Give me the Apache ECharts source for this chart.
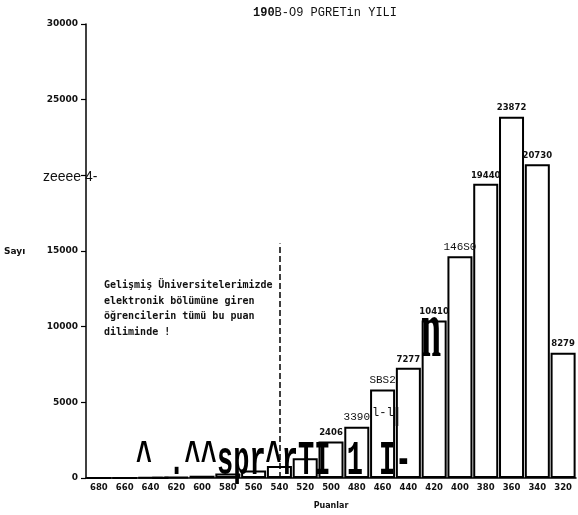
<!DOCTYPE html>
<html>
<head>
<meta charset="utf-8">
<script src="https://cdn.jsdelivr.net/npm/echarts@6/dist/echarts.min.js"></script>
<style>html,body{margin:0;padding:0;background:#fff;}#c{width:578px;height:515px;}</style>
</head>
<body>
<div id="c"></div>
<script>
// Score bins (Puanlar) and counts (Sayı)
const categories = ['680','660','640','620','600','580','560','540','520','500','480','460','440','420','400','380','360','340','320'];
const counts = [5, 10, 30, 80, 150, 300, 500, 800, 1300, 2406, 3390, 5852, 7277, 10410, 14650, 19440, 23872, 20730, 8279];
const barLabels = ['', '', '', '', '', '', '', '', '', '2406', '3390', 'SBS2', '7277', '10410', '146S0', '19440', '23872', '20730', '8279'];
const yTickLabels = ['0', '5000', '10000', '15000', 'zeeee 4-', '25000', '30000'];
const titleText = '190B-O9 PGRETin YILI';
const noteLines = ['Gelişmiş Üniversitelerimizde', 'elektronik bölümüne giren', 'öğrencilerin tümü bu puan', 'diliminde !'];
const noteCategory = '540';
const noteTop = 15500;
const overlayGlyphs = '^_.^^spr^rTI 1 I-';

const ocrStyled = new Set([10, 11, 14]);
const isNum = s => /^\d+$/.test(s);

const chart = echarts.init(document.getElementById('c'));
const option = {
  animation: false,
  backgroundColor: '#fff',
  title: {
    text: '{b|' + titleText.slice(0, 3) + '}' + titleText.slice(3),
    left: 248, top: 2,
    textStyle: {
      fontFamily: 'Liberation Mono', fontSize: 12, fontWeight: 'normal', color: '#111',
      rich: { b: { fontFamily: 'Liberation Mono', fontSize: 12, fontWeight: 'bold', color: '#111' } }
    }
  },
  grid: { left: 86, right: 2, top: 24, bottom: 37 },
  xAxis: {
    type: 'category',
    data: categories,
    name: 'Puanlar',
    nameLocation: 'middle',
    nameGap: 24,
    nameTextStyle: { fontFamily: 'DejaVu Sans', fontWeight: 'bold', fontSize: 8, color: '#111' },
    axisLine: { lineStyle: { color: '#000', width: 1.5 } },
    axisTick: { length: 4, lineStyle: { color: '#000', width: 1.2 } },
    axisLabel: { interval: 0, fontFamily: 'DejaVu Sans', fontWeight: 'bold', fontSize: 8.5, color: '#111', margin: 5 }
  },
  yAxis: {
    type: 'value', min: 0, max: 30000, interval: 5000,
    axisLine: { show: true, lineStyle: { color: '#000', width: 1.5 } },
    axisTick: { show: true, length: 5, lineStyle: { color: '#000', width: 1.2 } },
    splitLine: { show: false },
    axisLabel: {
      formatter: (v, i) => { const t = yTickLabels[i]; return isNum(t) ? t : ''; },
      fontFamily: 'DejaVu Sans', fontWeight: 'bold', fontSize: 9, color: '#111', margin: 8
    }
  },
  series: [{
    type: 'bar',
    data: counts,
    barCategoryGap: '3%',
    itemStyle: { color: '#fff', borderColor: '#000', borderWidth: 2 },
    label: {
      show: true, position: 'top', distance: 4,
      formatter: p => {
        const t = barLabels[p.dataIndex];
        if (!t) return '';
        return ocrStyled.has(p.dataIndex) ? '{o|' + t + '}' : t;
      },
      fontFamily: 'DejaVu Sans', fontWeight: 'bold', fontSize: 8.5, color: '#111',
      rich: { o: { fontFamily: 'Liberation Mono', fontSize: 11, fontWeight: 'normal', color: '#111' } }
    },
    markLine: {
      silent: true, symbol: 'none', label: { show: false },
      lineStyle: { color: '#000', type: 'dashed', width: 1.5 },
      data: [[{ coord: [noteCategory, 0] }, { coord: [noteCategory, noteTop] }]]
    }
  }],
  graphic: [
    { type: 'text', z: 100, left: 4, top: 247, style: { text: 'Sayı', fontFamily: 'DejaVu Sans', fontWeight: 'bold', fontSize: 9, fill: '#111' } },
    { type: 'text', z: 100, x: 43, y: 177, style: { text: yTickLabels[4], fontFamily: 'Liberation Sans', fontSize: 14, fill: '#111', verticalAlign: 'middle' } },
    { type: 'text', z: 100, left: 104, top: 278, style: { text: noteLines.join('\n'), fontFamily: 'DejaVu Sans Mono', fontWeight: 'bold', fontSize: 10, lineHeight: 15.5, fill: '#111' } },
    { type: 'text', z: 100, x: 136, y: 486, scaleY: 1.8, style: { text: overlayGlyphs, fontFamily: 'Liberation Mono', fontWeight: 'bold', fontSize: 27, fill: '#000', verticalAlign: 'bottom' } },
    { type: 'text', z: 100, x: 421, y: 376, scaleY: 2.3, style: { text: 'n', fontFamily: 'Liberation Serif', fontWeight: 'bold', fontSize: 36, fill: '#000', verticalAlign: 'bottom' } },
    { type: 'text', z: 100, x: 372, y: 407, style: { text: 'l-l', fontFamily: 'Liberation Mono', fontSize: 12, fill: '#111' } },
    { type: 'text', z: 100, x: 391, y: 407, style: { text: '|', fontFamily: 'Liberation Mono', fontWeight: 'bold', fontSize: 20, fill: '#111' } }
  ]
};
chart.setOption(option);
</script>
</body>
</html>
